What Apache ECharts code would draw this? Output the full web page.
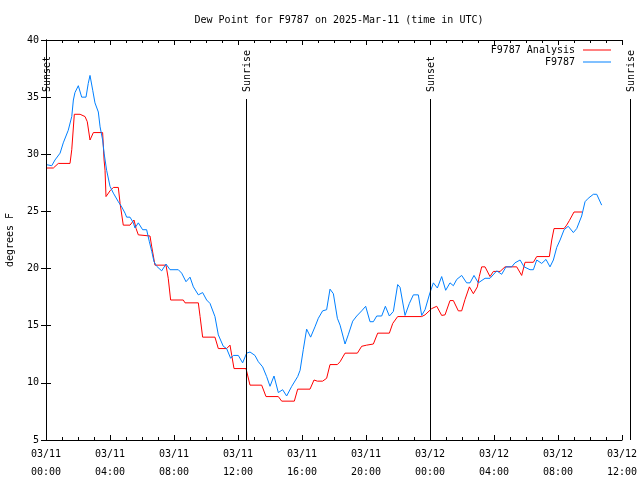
<!DOCTYPE html>
<html><head><meta charset="utf-8">
<script src="https://cdn.jsdelivr.net/npm/echarts@6/dist/echarts.min.js"></script>
<style>html,body{margin:0;padding:0;background:#fff}#c{width:640px;height:480px}</style>
</head><body><div id="c"></div>
<script>
const titleText = 'Dew Point for F9787 on 2025-Mar-11 (time in UTC)';
const yAxisName = 'degrees F';
const tickLabels = ['03/11\n00:00','03/11\n04:00','03/11\n08:00','03/11\n12:00','03/11\n16:00','03/11\n20:00','03/12\n00:00','03/12\n04:00','03/12\n08:00','03/12\n12:00'];
const seriesNames = ['F9787 Analysis', 'F9787'];
// hours since 03/11 00:00 UTC
const analysisHours = [0.0,0.46,0.77,1.5,1.61,1.77,2.13,2.44,2.58,2.75,2.96,3.54,3.63,3.69,3.75,4.0,4.21,4.52,4.63,4.83,5.25,5.5,5.63,5.77,6.5,6.61,6.81,7.5,7.64,7.79,8.58,8.69,9.52,9.63,9.79,10.56,10.77,11.29,11.5,11.61,11.75,12.5,12.75,13.48,13.75,14.52,14.73,15.52,15.73,16.5,16.75,16.96,17.29,17.54,17.75,18.21,18.38,18.69,19.46,19.73,20.04,20.46,20.73,21.46,21.67,21.98,23.48,23.69,24.11,24.42,24.73,24.94,25.25,25.46,25.77,25.98,26.19,26.46,26.71,26.96,27.08,27.23,27.44,27.75,27.96,28.38,28.69,29.42,29.73,29.94,30.46,30.67,31.46,31.61,31.75,32.38,32.54,32.71,33.0,33.52];
const analysisValues = [28.8,28.8,29.2,29.2,30.4,33.5,33.5,33.3,32.85,31.25,31.9,31.9,29.5,28.6,26.3,26.8,27.1,27.1,25.7,23.8,23.8,24.25,23.5,22.95,22.85,21.9,20.3,20.3,19.15,17.25,17.25,17.0,17.0,15.8,14.0,14.0,13.0,13.0,13.3,12.4,11.25,11.25,9.8,9.8,8.8,8.8,8.4,8.4,9.45,9.45,10.25,10.15,10.15,10.4,11.6,11.6,11.85,12.6,12.6,13.2,13.3,13.4,14.35,14.35,15.2,15.8,15.8,15.95,16.5,16.7,15.9,15.95,17.2,17.2,16.3,16.3,17.3,18.4,17.8,18.4,19.3,20.15,20.15,19.3,19.75,19.75,20.15,20.15,19.4,20.55,20.55,21.05,21.05,22.5,23.5,23.5,23.8,24.2,24.95,24.95];
const obsHours = [0.0,0.36,0.56,0.88,1.08,1.39,1.61,1.71,1.81,2.02,2.23,2.5,2.64,2.75,2.92,3.06,3.27,3.38,3.54,3.63,3.79,4.0,4.21,4.52,4.73,4.94,5.04,5.25,5.46,5.56,5.77,6.04,6.29,6.46,6.61,6.75,6.92,7.23,7.5,7.75,8.27,8.48,8.75,9.0,9.21,9.52,9.79,10.04,10.25,10.56,10.77,11.08,11.29,11.54,11.71,12.02,12.29,12.54,12.75,13.06,13.27,13.54,13.79,14.0,14.25,14.52,14.79,15.04,15.36,15.73,15.88,16.08,16.29,16.54,16.81,17.02,17.29,17.54,17.75,17.96,18.21,18.38,18.69,18.89,19.17,19.42,19.73,19.98,20.25,20.46,20.67,20.98,21.21,21.46,21.71,21.98,22.13,22.44,22.71,22.96,23.27,23.48,23.69,24.0,24.21,24.46,24.73,24.98,25.25,25.46,25.67,25.98,26.29,26.5,26.75,27.02,27.44,27.75,28.17,28.48,28.75,29.11,29.31,29.63,29.88,30.25,30.46,30.67,30.98,31.25,31.5,31.71,31.92,32.13,32.38,32.64,32.96,33.17,33.48,33.69,33.89,34.21,34.42,34.73];
const obsValues = [29.1,29.0,29.5,30.1,31.0,32.1,33.3,34.75,35.4,36.0,35.0,35.0,36.2,36.9,35.6,34.5,33.7,32.4,31.25,30.1,28.6,27.2,26.6,25.85,25.4,24.85,24.5,24.5,24.0,23.55,24.0,23.4,23.4,22.35,21.5,20.6,20.2,19.8,20.4,19.9,19.9,19.6,18.85,19.25,18.4,17.7,17.9,17.25,16.95,15.8,14.2,13.2,13.0,12.15,12.4,12.4,11.75,12.6,12.7,12.4,11.85,11.4,10.55,9.7,10.6,9.15,9.4,8.85,9.7,10.55,11.1,12.9,14.7,14.0,14.9,15.65,16.3,16.4,18.2,17.8,15.65,15.05,13.4,14.2,15.4,15.85,16.3,16.7,15.35,15.35,15.85,15.85,16.7,15.85,16.25,18.6,18.35,15.9,16.95,17.7,17.7,15.9,16.4,17.9,18.75,18.3,19.3,18.1,18.75,18.5,19.05,19.4,18.75,18.75,19.4,18.75,19.15,19.15,19.8,19.5,20.15,20.15,20.5,20.75,20.15,19.9,19.9,20.75,20.45,20.8,20.15,20.75,21.85,22.5,23.4,23.7,23.15,23.5,24.6,25.85,26.15,26.5,26.5,25.55];
const eventNames = ['Sunset','Sunrise','Sunset','Sunrise'];
const eventHours = [0, 12.5, 24, 36.5];
const eventLineTop = 34.85;

const FONT = 'DejaVu Sans Mono, monospace';
const chart = echarts.init(document.getElementById('c'), null, {renderer: 'canvas'});
const xBase = {type:'value', min:0, max:36, interval:4, splitLine:{show:false},
  axisLine:{show:true, lineStyle:{color:'#000', width:1}},
  axisTick:{show:true, inside:true, length:5, lineStyle:{color:'#000'}},
  minorTick:{show:true, splitNumber:4, length:3, lineStyle:{color:'#000'}}};
const yBase = {type:'value', min:5, max:40, interval:5, splitLine:{show:false},
  axisLine:{show:true, lineStyle:{color:'#000', width:1}},
  axisTick:{show:true, inside:true, length:5, lineStyle:{color:'#000'}}};
const legendBase = {orient:'vertical', align:'right', right:29, padding:0, itemWidth:28, itemHeight:1, icon:'rect', itemGap:2,
  textStyle:{fontFamily:FONT, fontSize:10, color:'#000', padding:[0,3,0,0]}};
chart.setOption({
  animation:false,
  backgroundColor:'#fff',
  title:{text:titleText, left:334, top:10, textAlign:'center',
    textStyle:{fontFamily:FONT, fontSize:10, fontWeight:'normal', color:'#000'}},
  legend:[
    Object.assign({}, legendBase, {data:[seriesNames[0]], top:45}),
    Object.assign({}, legendBase, {data:[seriesNames[1]], top:57})
  ],
  grid:{left:46, right:18, top:40, bottom:40, containLabel:false, outerBoundsMode:'none'},
  xAxis:[
    Object.assign({}, xBase, {position:'bottom', axisLabel:{show:true, margin:5, lineHeight:18, fontFamily:FONT, fontSize:10, color:'#000',
      formatter:v => tickLabels[Math.round(v/4)] || ''}}),
    Object.assign({}, xBase, {position:'top', axisLabel:{show:false}})
  ],
  yAxis:[
    Object.assign({}, yBase, {position:'left', name:yAxisName, nameLocation:'middle', nameGap:31, nameRotate:90,
      nameTextStyle:{fontFamily:FONT, fontSize:10, color:'#000'},
      axisLabel:{show:true, margin:7, fontFamily:FONT, fontSize:10, color:'#000'}}),
    Object.assign({}, yBase, {position:'right', axisLabel:{show:false}})
  ],
  series:[
    {name:seriesNames[0], type:'line', xAxisIndex:0, yAxisIndex:0, showSymbol:false, symbol:'none',
      color:'#ff0000', lineStyle:{width:1, color:'#ff0000'},
      data:analysisHours.map((h,i)=>[h, analysisValues[i]])},
    {name:seriesNames[1], type:'line', xAxisIndex:0, yAxisIndex:0, showSymbol:false, symbol:'none',
      color:'#0080ff', lineStyle:{width:1, color:'#0080ff'},
      data:obsHours.map((h,i)=>[h, obsValues[i]])}
  ]
});
const g = [];
eventHours.forEach((h, i) => {
  const top = chart.convertToPixel({gridIndex:0}, [h, eventLineTop]);
  const bot = chart.convertToPixel({gridIndex:0}, [h, 5]);
  const x = Math.round(top[0]) + 0.5;
  g.push({type:'line', silent:true, z:50, shape:{x1:x, y1:Math.round(top[1]), x2:x, y2:Math.round(bot[1])},
    style:{stroke:'#000', lineWidth:1}});
  g.push({type:'text', silent:true, z:50, x:x+1, y:Math.round(top[1]) - 7, rotation:Math.PI/2,
    style:{text:eventNames[i], fill:'#000', font:'10px ' + FONT, align:'left', verticalAlign:'middle'}});
});
chart.setOption({graphic:g});
</script></body></html>
